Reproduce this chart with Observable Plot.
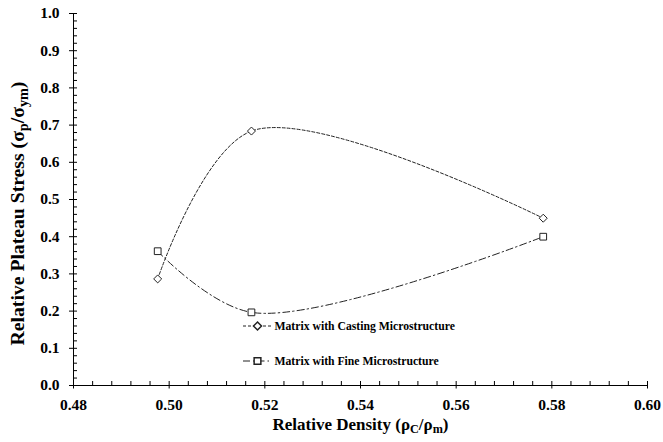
<!DOCTYPE html>
<html>
<head>
<meta charset="utf-8">
<script src="https://cdn.jsdelivr.net/npm/d3@7"></script>
<script src="https://cdn.jsdelivr.net/npm/@observablehq/plot@0.6"></script>
<style>
  html, body { margin: 0; padding: 0; background: #fff; }
</style>
</head>
<body>
<div id="chart"></div>
<script>
// ---- data ----
const density = [0.4976, 0.5172, 0.5782];
const castingStress = [0.2865, 0.684, 0.4497];
const fineStress = [0.361, 0.1966, 0.400];
const seriesNames = ["Matrix with Casting Microstructure", "Matrix with Fine Microstructure"];
const xTicks = [0.48, 0.50, 0.52, 0.54, 0.56, 0.58, 0.60];
const yTicks = [0.0, 0.1, 0.2, 0.3, 0.4, 0.5, 0.6, 0.7, 0.8, 0.9, 1.0];
const xMinor = d3.range(0, 31).map(i => +(0.48 + i * 0.004).toFixed(3));
const yMinor = d3.range(0, 51).map(i => +(i * 0.02).toFixed(2));
const xTitle = "Relative Density (ρC/ρm)";
const yTitle = "Relative Plateau Stress (σp/σym)";

const casting = density.map((x, i) => ({x, y: castingStress[i]}));
const fine = density.map((x, i) => ({x, y: fineStress[i]}));

// ---- layout / styles ----
const W = 663, H = 442, mL = 73, mR = 16, mT = 13, mB = 57;
const frameW = W - mL - mR, frameH = H - mT - mB;
const xDom = [0.48, 0.60], yDom = [0, 1.0];
const inTick = 4; // inward tick length in px
const ink = "#222";
const castDash = "3,2";
const fineDash = "7,3,1.5,3";
const legend = [
  {name: seriesNames[0], symbol: "diamond2", r: 3.6, dash: castDash, dy: 312.5},
  {name: seriesNames[1], symbol: "square", r: 3.8, dash: fineDash, dy: 347.5}
];
const legX = 184, legHalf = 14, legTextX = 201;

const legendMarks = legend.flatMap(e => [
  Plot.tickY([yDom[1]], {y: d => d, dy: e.dy, insetLeft: legX - legHalf, insetRight: frameW - legX - legHalf, stroke: ink, strokeDasharray: e.dash}),
  Plot.dot([e], {frameAnchor: "top-left", dx: legX, dy: e.dy, symbol: e.symbol, r: e.r, stroke: ink, fill: "#fff"}),
  Plot.text([e], {frameAnchor: "top-left", dx: legTextX, dy: e.dy, text: "name", textAnchor: "start", lineAnchor: "middle", fontSize: 11.7, fill: "#000"})
]);

const chart = Plot.plot({
  width: W,
  height: H,
  marginLeft: mL,
  marginRight: mR,
  marginTop: mT,
  marginBottom: mB,
  style: {fontFamily: "'Liberation Serif', 'Times New Roman', serif", fontWeight: "bold", fontSize: "15px", color: "#000", background: "#fff"},
  x: {domain: xDom},
  y: {domain: yDom},
  marks: [
    Plot.axisX({ticks: xTicks, tickFormat: d3.format(".2f"), tickSize: 3.5, tickPadding: 10, label: null, fontSize: 15.5, stroke: "#000"}),
    Plot.axisY({ticks: yTicks, tickFormat: d3.format(".1f"), tickSize: 4, tickPadding: 10, label: null, fontSize: 15.5, stroke: "#000"}),
    // inward (minor + major) ticks
    Plot.ruleY(yMinor, {y: d => d, x1: xDom[0], x2: xDom[0] + (xDom[1] - xDom[0]) * inTick / frameW, stroke: "#000", strokeWidth: 1}),
    Plot.ruleX(xMinor, {x: d => d, y1: yDom[0], y2: yDom[0] + (yDom[1] - yDom[0]) * inTick / frameH, stroke: "#000", strokeWidth: 1}),
    Plot.ruleX([xDom[0]], {stroke: "#000"}),
    Plot.ruleY([yDom[0]], {stroke: "#000"}),
    Plot.line(casting, {x: "x", y: "y", curve: "catmull-rom", stroke: ink, strokeWidth: 1, strokeDasharray: castDash}),
    Plot.line(fine, {x: "x", y: "y", curve: "catmull-rom", stroke: ink, strokeWidth: 1, strokeDasharray: fineDash}),
    Plot.dot(casting, {x: "x", y: "y", symbol: "diamond2", r: 3.6, stroke: ink, fill: "#fff", strokeWidth: 1}),
    Plot.dot(fine, {x: "x", y: "y", symbol: "square", r: 3.8, stroke: ink, fill: "#fff", strokeWidth: 1}),
    ...legendMarks,
    // axis titles
    Plot.text([xTitle], {frameAnchor: "bottom", dy: 44, text: d => d, textAnchor: "middle", fontSize: 17, fill: "#000"}),
    Plot.text([yTitle], {frameAnchor: "left", dx: -56, dy: 14, rotate: -90, text: d => d, textAnchor: "middle", fontSize: 19.7, fill: "#000"})
  ]
});

// subscripts as real text via tspans
function subscript(svg, full, parts) {
  d3.select(svg).selectAll("text").filter(function() { return this.textContent === full; }).each(function() {
    const t = d3.select(this);
    t.text(null);
    let shifted = false;
    for (const [s, sub] of parts) {
      const sp = t.append("tspan").text(s);
      if (sub && !shifted) { sp.attr("dy", "0.3em").attr("font-size", "0.72em"); shifted = true; }
      else if (sub) { sp.attr("font-size", "0.72em"); }
      else if (!sub && shifted) { sp.attr("dy", "-0.216em"); shifted = false; }
    }
  });
}
subscript(chart, xTitle, [["Relative Density (ρ", false], ["C", true], ["/ρ", false], ["m", true], [")", false]]);
subscript(chart, yTitle, [["Relative Plateau Stress (σ", false], ["p", true], ["/σ", false], ["ym", true], [")", false]]);

document.getElementById("chart").appendChild(chart);
</script>
</body>
</html>
